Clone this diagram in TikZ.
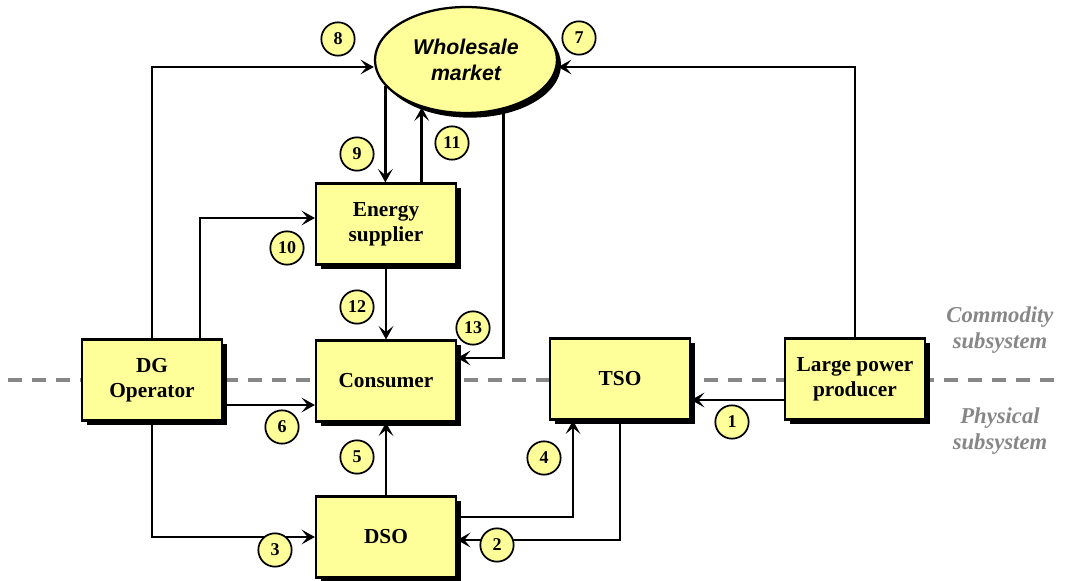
\documentclass[tikz,border=0pt]{standalone}
\usepackage{fontspec}
\setmainfont{Liberation Serif}
\newfontfamily\marketfont{Liberation Sans}
\usetikzlibrary{calc, shapes.geometric, shadows, arrows.meta}
\definecolor{boxyellow}{RGB}{255,255,153}
\definecolor{layergray}{RGB}{135,135,135}

\begin{document}
\begin{tikzpicture}[x=0.75pt, y=-0.75pt,
    >={Stealth[length=10pt, width=11pt, inset=4.5pt]},
    actor/.style={draw, line width=1.6pt, fill=boxyellow, minimum width=105pt,
        minimum height=60.75pt, align=center,
        font=\fontsize{16}{19}\selectfont\bfseries,
        drop shadow={shadow xshift=3.5pt, shadow yshift=-3.5pt, fill=black, opacity=1}},
    flow/.style={draw, circle, line width=1.3pt, fill=boxyellow, inner sep=0pt,
        minimum size=25pt, font=\fontsize{13.5}{13.5}\selectfont\bfseries},
    link/.style={->, line width=2pt},
    layer/.style={text=layergray, align=center,
        font=\fontsize{17}{19.5}\selectfont\bfseries\itshape}]
    \useasboundingbox (0,0) rectangle (1065,581);

    \draw[layergray, line width=2.6pt, dash pattern=on 10.5pt off 7.5pt]
        (8,380) -- (1058,380);

    \node[ellipse, draw, line width=1.7pt, fill=boxyellow, minimum width=136.5pt,
        minimum height=79.5pt, align=center,
        font=\marketfont\fontsize{16}{19}\selectfont\bfseries\itshape,
        drop shadow={shadow xshift=3pt, shadow yshift=-3.5pt, fill=black, opacity=1}]
        (wm) at (466,60) {Wholesale\\market};

    \node[actor] (es) at (386,224) {Energy\\supplier};
    \node[actor] (dg) at (152,380) {DG\\Operator};
    \node[actor] (con) at (386,381) {Consumer};
    \node[actor] (tso) at (620,379) {TSO};
    \node[actor] (lpp) at (855,379) {Large power\\producer};
    \node[actor] (dso) at (386,537) {DSO};

    \node[layer] (commodity) at (1000,330) {Commodity\\subsystem};
    \node[layer] (physical) at (1000,431) {Physical\\subsystem};

    \draw[link] (lpp.north) |- ($(wm.east)+(0,7)$);
    \draw[link] (dg.north) |- ($(wm.west)+(0,7)$);
    \draw[link] (wm.198) -- (wm.198 |- es.north);
    \draw[link] (es.north -| wm.227) -- (wm.227);
    \draw[link] ($(dg.north)+(48,0)$) |- ($(es.west)+(0,-6)$);
    \draw[link] (es.south) -- (con.north);
    \draw[link] (wm.307) |- ($(con.east)+(0,-23)$);
    \draw[link] ($(dg.east)+(0,25)$) -- ($(con.west)+(0,24)$);
    \draw[link] (dso.north) -- (con.south);
    \draw[link] (dg.south) |- (dso.west);
    \draw[link] ($(dso.east)+(0,-20)$) -| ($(tso.south)+(-47,0)$);
    \draw[link] (tso.south) |- ($(dso.east)+(0,3)$);
    \draw[link] ($(lpp.west)+(0,21)$) -- ($(tso.east)+(0,21)$);

    \node[flow] (f1) at (732,422) {1};
    \node[flow] (f2) at (497,545) {2};
    \node[flow] (f3) at (275,550) {3};
    \node[flow] (f4) at (544,458) {4};
    \node[flow] (f5) at (357,457) {5};
    \node[flow] (f6) at (282,427) {6};
    \node[flow] (f7) at (579,38) {7};
    \node[flow] (f8) at (338,39) {8};
    \node[flow] (f9) at (357,154) {9};
    \node[flow] (f10) at (287,248) {10};
    \node[flow] (f11) at (452,143) {11};
    \node[flow] (f12) at (357,307) {12};
    \node[flow] (f13) at (473,328) {13};
\end{tikzpicture}
\end{document}
